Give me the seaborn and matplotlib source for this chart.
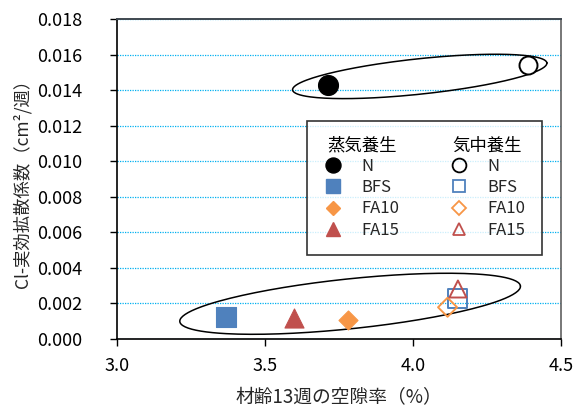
import numpy as np
import matplotlib
matplotlib.use("Agg")
import matplotlib.pyplot as plt
from matplotlib.lines import Line2D
from matplotlib.transforms import IdentityTransform
import seaborn as sns

sns.set_theme(style="white")
plt.rcParams['font.family'] = ['Noto Sans CJK JP', 'DejaVu Sans']

# Porosity at 13 weeks (%) and effective Cl- diffusion coefficient (cm2/week)
mixes = ["N", "BFS", "FA10", "FA15"]
steam_porosity = [3.714, 3.367, 3.78, 3.597]
steam_diffusion = [0.0143, 0.00124, 0.00105, 0.00118]
air_porosity = [4.387, 4.149, 4.116, 4.151]
air_diffusion = [0.0154, 0.00228, 0.00177, 0.0028]

mix_colors = ["black", "#4F81BD", "#F79646", "#C0504D"]
mix_markers = ["o", "s", "D", "^"]
steam_sizes = [207, 193, 94, 188]
air_sizes = [168, 181, 94, 150]
legend_ms = [10.8, 9.4, 7.6, 10.0]
header_steam = "蒸気養生"
header_air = "気中養生"

x_ticks = [3.0, 3.5, 4.0, 4.5]
y_ticks = [0.000, 0.002, 0.004, 0.006, 0.008, 0.010, 0.012, 0.014, 0.016, 0.018]

fig = plt.figure(figsize=(5.77, 4.08), dpi=100)
ax = fig.add_axes([0.2028, 0.1699, 0.7700, 0.7828])

# Steam-cured: filled markers
for xv, yv, c, m, s in zip(steam_porosity, steam_diffusion, mix_colors, mix_markers, steam_sizes):
    sns.scatterplot(x=[xv], y=[yv], marker=m, s=s, color=c, edgecolor=c,
                    linewidth=0.8, ax=ax, zorder=4, legend=False)

# Air-cured: open markers
for xv, yv, c, m, s in zip(air_porosity, air_diffusion, mix_colors, mix_markers, air_sizes):
    sns.scatterplot(x=[xv], y=[yv], marker=m, s=s, color=c, ax=ax,
                    zorder=4, legend=False)
    coll = ax.collections[-1]
    coll.set_facecolor("white" if c == "black" else "none")
    coll.set_edgecolor(c)
    coll.set_linewidth(1.4)


def group_ellipse(center, major, minor, n=200):
    t = np.linspace(0, 2 * np.pi, n)
    cx, cy = center
    xs = cx + major[0] * np.cos(t) + minor[0] * np.sin(t)
    ys = cy + major[1] * np.cos(t) + minor[1] * np.sin(t)
    ax.plot(xs, ys, color="black", lw=1.1, zorder=3)


# Groupings: plain mixes (top), blended mixes (bottom)
group_ellipse((4.022, 0.01478), (0.4293, 0.000761), (-0.0063, 0.000992))
group_ellipse((3.787, 0.001967), (0.575, 0.001003), (-0.00875, 0.001398))

ax.set_xlim(3.0, 4.5)
ax.set_ylim(0.0, 0.018)
ax.set_xticks(x_ticks)
ax.set_yticks(y_ticks)
ax.set_xticklabels([f"{v:.1f}" for v in x_ticks])
ax.set_yticklabels([f"{v:.3f}" for v in y_ticks])
ax.tick_params(axis="both", direction="out", length=5, width=1, colors="black",
               labelsize=13, left=True, bottom=True)
ax.tick_params(axis="y", pad=20)
ax.tick_params(axis="x", pad=8)

ax.yaxis.grid(True, color="#00B0F0", linestyle=(0, (1, 1)), linewidth=0.9)
ax.xaxis.grid(False)
ax.set_axisbelow(True)

for side in ["left", "bottom"]:
    ax.spines[side].set_color("black")
    ax.spines[side].set_linewidth(1.2)
ax.spines["top"].set_color("#404850")
ax.spines["top"].set_linewidth(1.4)
ax.spines["right"].set_color("#606060")
ax.spines["right"].set_linewidth(1.2)

ax.set_xlabel("材齢13週の空隙率（%）", fontsize=13.5, labelpad=9)
ax.set_ylabel("Cl-実効拡散係数（cm²/週）", fontsize=12.5, labelpad=4)

# Two-column legend; each column gets a curing-condition header row
blank = Line2D([], [], linestyle="none", marker=None)
handles = [blank]
labels = [""]
for c, m, ms in zip(mix_colors, mix_markers, legend_ms):
    handles.append(Line2D([], [], linestyle="none", marker=m, markersize=ms,
                          markerfacecolor=c, markeredgecolor=c))
labels += mixes
handles.append(blank)
labels.append("")
for c, m, ms in zip(mix_colors, mix_markers, legend_ms):
    handles.append(Line2D([], [], linestyle="none", marker=m, markersize=ms * 0.92,
                          markerfacecolor="none", markeredgecolor=c, markeredgewidth=1.3))
labels += mixes

leg = ax.legend(handles, labels, ncol=2, loc="upper left",
                bbox_to_anchor=(0.428, 0.682), frameon=True, fancybox=False,
                edgecolor="black", fontsize=12, handlelength=1.2,
                handletextpad=1.12, columnspacing=2.94, labelspacing=0.25,
                borderpad=0.96, borderaxespad=0)
leg.get_frame().set_linewidth(1.2)
leg.set_zorder(6)

fig.canvas.draw()
renderer = fig.canvas.get_renderer()
texts = leg.get_texts()
b_n = texts[1].get_window_extent(renderer)
b_bfs = texts[2].get_window_extent(renderer)
pitch = (b_n.y0 + b_n.y1) / 2 - (b_bfs.y0 + b_bfs.y1) / 2
for idx, header in ((1, header_steam), (6, header_air)):
    b = texts[idx].get_window_extent(renderer)
    fig.text(b.x0 - 35, (b.y0 + b.y1) / 2 + pitch, header, transform=IdentityTransform(),
             ha="left", va="center", fontsize=12.5, color="black", zorder=7)

fig.savefig("out.png", dpi=100)
